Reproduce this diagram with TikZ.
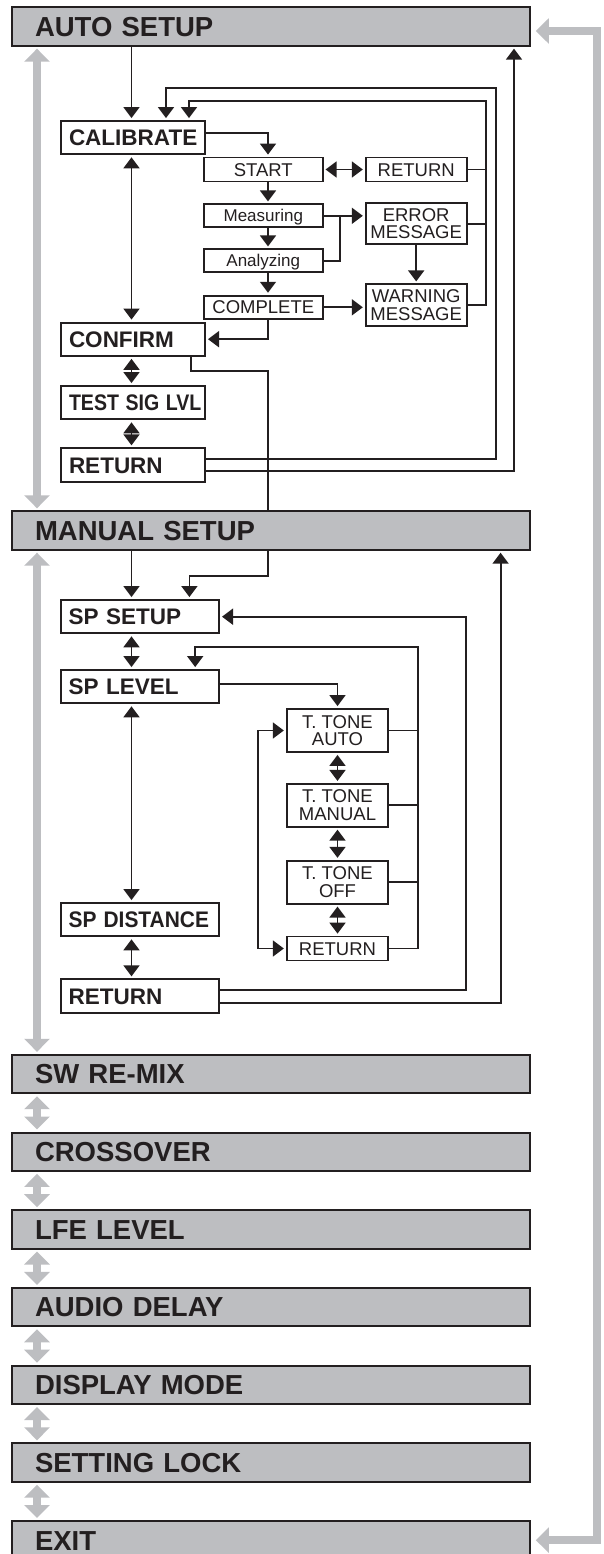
\documentclass[tikz,border=0pt]{standalone}
\usepackage{fontspec}
\setmainfont{Liberation Sans}
\usetikzlibrary{arrows.meta, calc}
\definecolor{bargray}{RGB}{189,190,193}
\definecolor{ink}{RGB}{35,31,32}

\begin{document}
\begin{tikzpicture}[
    x=1pt, y=-1pt,
    bar/.style={draw=ink, line width=2pt, fill=bargray, text=ink, minimum height=38.4pt, text width=472.8pt, inner xsep=22.6pt, inner ysep=0pt, align=left, font=\fontsize{27.5}{27.5}\selectfont\bfseries, text height=19.7pt, text depth=0pt},
    mainbox/.style={draw=ink, line width=2pt, fill=white, text=ink, minimum height=33.3pt, text width=#1, inner xsep=8pt, inner ysep=0pt, align=left, font=\fontsize{22.5}{22.5}\selectfont\bfseries, text height=16.1pt, text depth=0pt},
    mainbox/.default=128pt,
    smallbox/.style={draw=ink, line width=1.8pt, fill=white, text=ink, minimum width=#1, minimum height=24pt, inner sep=0pt, align=center, font=\fontsize{18.5}{17.5}\selectfont},
    smallbox/.default=118.7pt,
    oneline/.style={text height=13.2pt, text depth=0pt},
    arr/.style={-{Triangle[width=16pt, length=11pt]}, line width=1.8pt, draw=ink, shorten >=2pt},
    darr/.style={{Triangle[width=16pt, length=11pt]}-{Triangle[width=16pt, length=11pt]}, line width=1.8pt, draw=ink, shorten <=2pt, shorten >=2pt},
    ln/.style={line width=1.8pt, draw=ink},
    garr/.style={{Triangle[width=25pt, length=13pt]}-{Triangle[width=25pt, length=13pt]}, line width=7.5pt, draw=bargray, shorten <=2pt, shorten >=2pt},
]
\useasboundingbox[fill=white] (0,0) rectangle (603,1554);

% Main menu
\node[bar] (autosetup) at (271.4,26.5) {AUTO SETUP};
\node[bar] (manualsetup) at (271.4,530.5) {MANUAL SETUP};
\node[bar] (swremix) at (271.4,1074) {SW RE-MIX};
\node[bar] (crossover) at (271.4,1151.7) {CROSSOVER};
\node[bar] (lfelevel) at (271.4,1229.4) {LFE LEVEL};
\node[bar] (audiodelay) at (271.4,1307.1) {AUDIO DELAY};
\node[bar] (displaymode) at (271.4,1384.8) {DISPLAY MODE};
\node[bar] (settinglock) at (271.4,1462.5) {SETTING LOCK};
\node[bar] (exit) at (271.4,1540.2) {EXIT};

% Auto setup items
\node[mainbox] (calib) at (133,137.7) {CALIBRATE};
\node[mainbox] (confirm) at (133,339.2) {CONFIRM};
\node[mainbox] (testsig) at (133,402.7) {\scalebox{0.87}[1]{TEST SIG LVL}};
\node[mainbox] (autoret) at (133,465) {RETURN};

% Calibration steps
\node[smallbox, oneline] (start) at (263.3,169.5) {START};
\node[smallbox, oneline, minimum height=23pt, font=\fontsize{17}{17}\selectfont, text height=12.2pt] (measuring) at (263.3,215.8) {Measuring};
\node[smallbox, oneline, minimum height=23pt, font=\fontsize{17}{17}\selectfont, text height=12.2pt] (analyzing) at (263.3,260.8) {Analyzing};
\node[smallbox, oneline, minimum height=23.3pt] (complete) at (263.3,307.3) {COMPLETE};
\node[smallbox=101pt, oneline] (calret) at (416.2,169.5) {RETURN};
\node[smallbox=101pt, minimum height=41pt] (errmsg) at (416.2,223.8) {ERROR\\MESSAGE};
\node[smallbox=101pt, minimum height=41.4pt] (warnmsg) at (416.2,305) {WARNING\\MESSAGE};

% Manual setup items
\node[mainbox=142.3pt] (spsetup) at (139.85,616.7) {SP SETUP};
\node[mainbox=142.3pt] (splevel) at (139.85,686.7) {SP LEVEL};
\node[mainbox=142.3pt] (spdist) at (139.85,919.7) {\scalebox{0.93}[1]{SP DISTANCE}};
\node[mainbox=142.3pt] (manret) at (139.85,996) {RETURN};

% Test tone
\node[smallbox=101.6pt, minimum height=43pt] (ttauto) at (337.5,730.5) {T. TONE\\AUTO};
\node[smallbox=101.6pt, minimum height=43pt] (ttmanual) at (337.5,805.3) {T. TONE\\MANUAL};
\node[smallbox=101.6pt, minimum height=43pt] (ttoff) at (337.5,882.2) {T. TONE\\OFF};
\node[smallbox=101.6pt, oneline] (ttret) at (337.5,948.5) {RETURN};

% Columns and corners
\coordinate (xm) at (131.5,0);
\coordinate (xa) at (268,0);
\coordinate (mjoin) at (340,0);
\coordinate (retA) at (486,101);
\coordinate (retB) at (496,88.3);
\coordinate (inA) at (189,0);
\coordinate (inB) at (166,0);
\coordinate (upA) at (514,0);
\coordinate (cfA) at (191.3,371);
\coordinate (msA) at (189.4,575.7);
\coordinate (msB) at (465.8,0);
\coordinate (msC) at (500.6,0);
\coordinate (ttA) at (418.3,646.7);
\coordinate (ttL) at (258.2,0);
\coordinate (inC) at (195.2,0);
\coordinate (gl) at (37,0);
\coordinate (gr) at (597,0);

% Auto setup
\draw[arr] (autosetup.south -| xm) -- (calib.north -| xm);
\draw[darr] (calib.south -| xm) -- (confirm.north -| xm);
\draw[darr] (confirm.south -| xm) -- (testsig.north -| xm);
\draw[darr] (testsig.south -| xm) -- (autoret.north -| xm);

% Calibration
\draw[arr] ([yshift=4.4pt]calib.east) -| (start.north -| xa);
\draw[darr] (start.east) -- (calret.west);
\draw[arr] (start.south -| xa) -- (measuring.north -| xa);
\draw[arr] (measuring.south -| xa) -- (analyzing.north -| xa);
\draw[arr] (analyzing.south -| xa) -- (complete.north -| xa);
\draw[arr] (measuring.east) -- (measuring.east -| errmsg.west);
\draw[ln] (analyzing.east) -| (measuring.east -| mjoin);
\draw[arr] (errmsg.south) -- (warnmsg.north);
\draw[arr] (complete.east) -- (complete.east -| warnmsg.west);
\draw[arr] (complete.south -| xa) |- (confirm.east);

% Returns to calibrate / auto setup
\draw[arr] (warnmsg.east) -| (retA) -| (calib.north -| inA);
\draw[ln] (calret.east) -- (calret.east -| retA);
\draw[ln] (errmsg.east) -- (errmsg.east -| retA);
\draw[arr] ([yshift=5.7pt]autoret.east) -| (retB) -| (calib.north -| inB);
\draw[arr] ([yshift=-6pt]autoret.east) -| (autosetup.south -| upA);

% Confirm to manual setup
\draw[ln] (confirm.south -| cfA) |- (cfA -| xa) -- (manualsetup.north -| xa);
\draw[arr] (manualsetup.south -| xa) |- (msA) -- (spsetup.north -| msA);
\draw[arr] (manualsetup.south -| xm) -- (spsetup.north -| xm);

% Manual setup
\draw[darr] (spsetup.south -| xm) -- (splevel.north -| xm);
\draw[darr] (splevel.south -| xm) -- (spdist.north -| xm);
\draw[darr] (spdist.south -| xm) -- (manret.north -| xm);
\draw[arr] ([yshift=6pt]manret.east) -| (spsetup.east -| msB) -- (spsetup.east);
\draw[arr] ([yshift=-7.3pt]manret.east) -| (manualsetup.south -| msC);

% Test tone
\draw[arr] ([yshift=2.4pt]splevel.east) -| (ttauto.north);
\draw[darr] (ttauto.south) -- (ttmanual.north);
\draw[darr] (ttmanual.south) -- (ttoff.north);
\draw[darr] (ttoff.south) -- (ttret.north);
\draw[arr] (ttret.east) -| (ttA) -| (splevel.north -| inC);
\draw[ln] (ttauto.east) -- (ttauto.east -| ttA);
\draw[ln] (ttmanual.east) -- (ttmanual.east -| ttA);
\draw[ln] (ttoff.east) -- (ttoff.east -| ttA);
\draw[darr] (ttauto.west) -- (ttauto.west -| ttL) |- (ttret.west);

% Gray main menu arrows
\draw[garr] (autosetup.south -| gl) -- (manualsetup.north -| gl);
\draw[garr] (manualsetup.south -| gl) -- (swremix.north -| gl);
\draw[garr] (swremix.south -| gl) -- (crossover.north -| gl);
\draw[garr] (crossover.south -| gl) -- (lfelevel.north -| gl);
\draw[garr] (lfelevel.south -| gl) -- (audiodelay.north -| gl);
\draw[garr] (audiodelay.south -| gl) -- (displaymode.north -| gl);
\draw[garr] (displaymode.south -| gl) -- (settinglock.north -| gl);
\draw[garr] (settinglock.south -| gl) -- (exit.north -| gl);
\draw[garr, shorten <=4.5pt, shorten >=4.5pt] ([yshift=-4.5pt]autosetup.east) -| (exit.east -| gr) -- (exit.east);

\end{tikzpicture}
\end{document}
